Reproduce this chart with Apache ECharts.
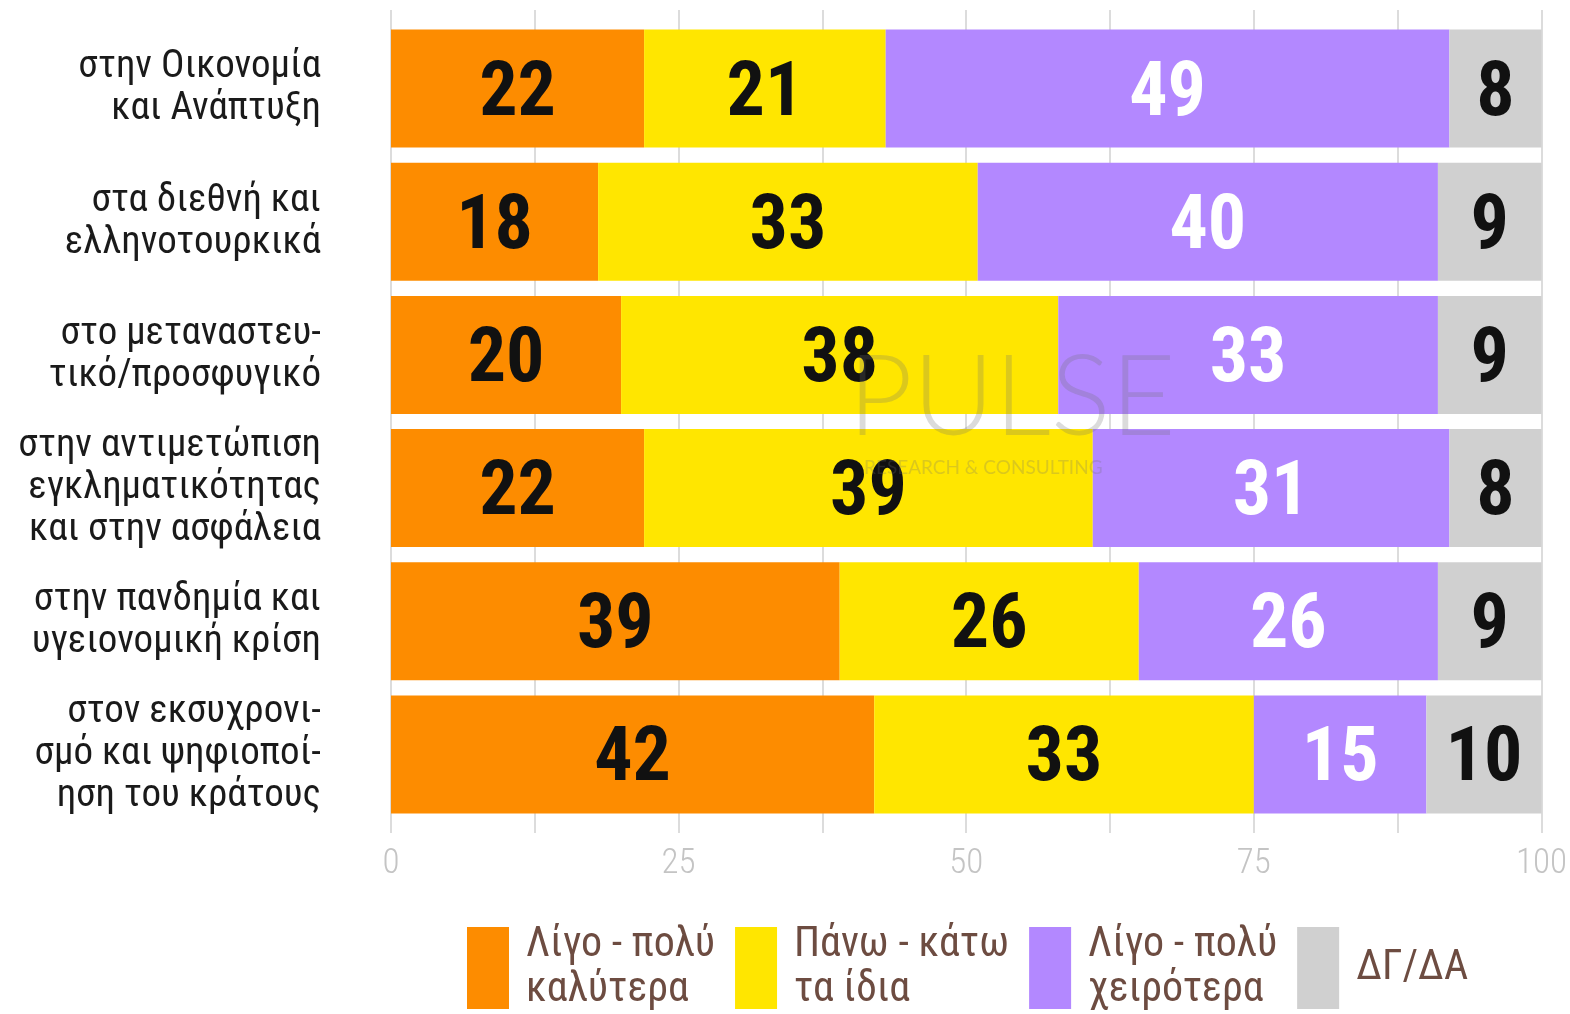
<!DOCTYPE html>
<html lang="el">
<head>
<meta charset="utf-8" />
<script src="https://cdn.jsdelivr.net/npm/echarts@6/dist/echarts.min.js"></script>
<title>Pulse</title>
<style>
  html, body { margin: 0; padding: 0; background: #fff; }
  #main { width: 1570px; height: 1014px; }
</style>
</head>
<body>
<div id="main"></div>
<script>
// κατηγορίες (από πάνω προς τα κάτω)
var categories = [
  'στην Οικονομία\nκαι Ανάπτυξη',
  'στα διεθνή και\nελληνοτουρκικά',
  'στο μεταναστευ-\nτικό/προσφυγικό',
  'στην αντιμετώπιση\nεγκληματικότητας\nκαι στην ασφάλεια',
  'στην πανδημία και\nυγειονομική κρίση',
  'στον εκσυχρονι-\nσμό και ψηφιοποί-\nηση του κράτους'
];
var seriesNames = ['Λίγο - πολύ\nκαλύτερα', 'Πάνω - κάτω\nτα ίδια', 'Λίγο - πολύ\nχειρότερα', 'ΔΓ/ΔΑ'];
var better = [22, 18, 20, 22, 39, 42];
var same = [21, 33, 38, 39, 26, 33];
var worse = [49, 40, 33, 31, 26, 15];
var dkna = [8, 9, 9, 8, 9, 10];
var xTicks = [0, 25, 50, 75, 100];

var colors = ['#fd8c00', '#ffe600', '#b388ff', '#d0d0d0'];
var labelColors = ['#111', '#111', '#fff', '#111'];
var font = '"Roboto Condensed", "DejaVu Sans Condensed", "Liberation Sans Narrow", Roboto, sans-serif';

var chart = echarts.init(document.getElementById('main'));

var values = [better, same, worse, dkna];
var series = values.map(function (d, i) {
  return {
    name: seriesNames[i],
    type: 'bar',
    stack: 'all',
    data: d,
    barWidth: 118,
    itemStyle: { color: colors[i] },
    label: {
      show: true,
      position: 'inside',
      offset: [0, 7],
      color: labelColors[i],
      fontFamily: font,
      fontWeight: 'bold',
      fontSize: 76
    }
  };
});

var option = {
  animation: false,
  backgroundColor: '#fff',
  grid: { left: 391, right: 28, top: 22, bottom: 193, containLabel: false },
  xAxis: [
    {
      type: 'value',
      min: 0, max: 100, interval: 25,
      position: 'bottom',
      axisLine: { show: false },
      axisTick: { show: true, length: 12, lineStyle: { color: '#dcdcdc', width: 2 } },
      minorTick: { show: true, splitNumber: 2, length: 12, lineStyle: { color: '#dcdcdc', width: 2 } },
      splitLine: { show: true, lineStyle: { color: '#dcdcdc', width: 2 } },
      minorSplitLine: { show: true, lineStyle: { color: '#dcdcdc', width: 2 } },
      axisLabel: {
        margin: 26,
        color: '#c4c4c4',
        fontFamily: font,
        fontWeight: 300,
        fontSize: 35,
        formatter: function (v) { return xTicks.indexOf(v) >= 0 ? String(v) : ''; }
      }
    },
    {
      type: 'value',
      min: 0, max: 100, interval: 25,
      position: 'top',
      axisLine: { show: false },
      axisTick: { show: true, length: 12, lineStyle: { color: '#dcdcdc', width: 2 } },
      minorTick: { show: true, splitNumber: 2, length: 12, lineStyle: { color: '#dcdcdc', width: 2 } },
      splitLine: { show: false },
      axisLabel: { show: false }
    }
  ],
  yAxis: {
    type: 'category',
    inverse: true,
    data: categories,
    axisLine: { show: false },
    axisTick: { show: false },
    axisLabel: {
      margin: 70,
      color: '#1a1a1a',
      fontFamily: font,
      fontSize: 39,
      lineHeight: 42,
      padding: [10, 0, 0, 0],
      align: 'right'
    }
  },
  legend: {
    left: 462,
    top: 918,
    itemWidth: 42,
    itemHeight: 82,
    itemGap: 20,
    icon: 'rect',
    selectedMode: false,
    textStyle: {
      color: '#6d4c41',
      fontFamily: font,
      fontSize: 42,
      lineHeight: 45,
      padding: [0, 0, 0, 12]
    },
    data: seriesNames
  },
  graphic: [
    {
      type: 'text',
      left: 848, top: 343, z: 100, silent: true,
      style: { text: 'PULSE', fontFamily: 'Lato, "Open Sans", sans-serif', fontWeight: 300, fontSize: 112,
        fill: 'rgba(110,110,110,0.25)', letterSpacing: 14 }
    },
    {
      type: 'text',
      left: 864, top: 458, z: 100, silent: true,
      style: { text: 'RESEARCH & CONSULTING', fontFamily: 'Lato, "Open Sans", sans-serif', fontSize: 19,
        fill: 'rgba(110,110,110,0.25)', letterSpacing: 7 }
    }
  ],
  series: series
};

chart.setOption(option);
</script>
</body>
</html>
